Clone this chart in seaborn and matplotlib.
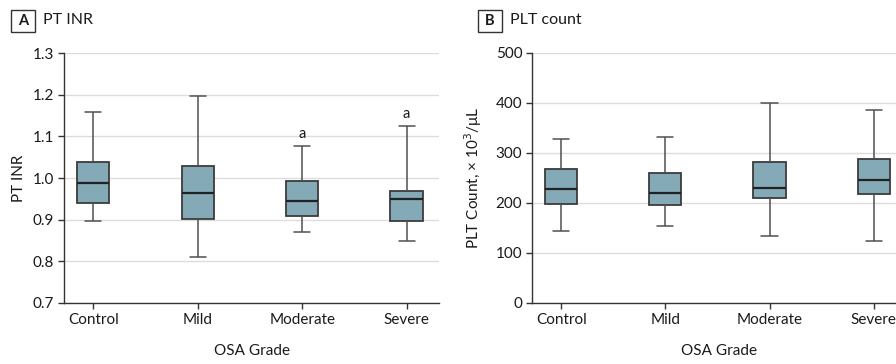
import numpy as np
import pandas as pd
import matplotlib
matplotlib.use('Agg')
import matplotlib.pyplot as plt
import matplotlib.patches as mpatches
import seaborn as sns

# 數據（從圖中讀取的五數摘要：最小、Q1、中位數、Q3、最大）
grades = ['Control', 'Mild', 'Moderate', 'Severe']

inr_low = [0.897, 0.810, 0.870, 0.850]
inr_q1 = [0.939, 0.902, 0.908, 0.898]
inr_med = [0.988, 0.963, 0.946, 0.950]
inr_q3 = [1.038, 1.029, 0.994, 0.969]
inr_high = [1.158, 1.197, 1.078, 1.126]
inr_marks = ['', '', 'a', 'a']

plt_low = [144, 154, 134, 125]
plt_q1 = [199, 197, 210, 218]
plt_med = [228, 221, 230, 246]
plt_q3 = [269, 260, 282, 288]
plt_high = [329, 333, 400, 387]

sns.set_theme(style='white')
plt.rcParams['font.family'] = ['Lato', 'DejaVu Sans']

BOX_COLOR = '#84a9b7'
EDGE = '#3c3c3c'
GRID = '#dcdcdc'
TEXT = '#1a1a1a'
W, H = 896, 364


def long_frame(low, q1, med, q3, high):
    # 每組 5 個點，四分位數剛好落在 Q1/中位數/Q3
    rows = []
    for g, a, b, c, d, e in zip(grades, low, q1, med, q3, high):
        for v in (a, b, c, d, e):
            rows.append({'grade': g, 'value': v})
    return pd.DataFrame(rows)


def draw_panel(ax, df, ylim, yticks, ylabel):
    sns.boxplot(data=df, x='grade', y='value', order=grades, ax=ax,
                whis=(0, 100), width=0.31, color=BOX_COLOR, saturation=1,
                linecolor=EDGE, linewidth=1.3,
                whiskerprops={'color': '#505050', 'linewidth': 1.1},
                capprops={'color': '#505050', 'linewidth': 1.1},
                medianprops={'color': '#222222', 'linewidth': 1.6},
                showfliers=False)
    ax.set_ylim(*ylim)
    ax.set_yticks(yticks)
    ax.set_xlim(-0.28, 3.31)
    ax.grid(axis='y', color=GRID, linewidth=1.0)
    ax.set_axisbelow(True)
    for s in ['top', 'right']:
        ax.spines[s].set_visible(False)
    for s in ['left', 'bottom']:
        ax.spines[s].set_color('#333333')
        ax.spines[s].set_linewidth(1.0)
    ax.tick_params(axis='both', which='major', length=4, width=1.0,
                   color='#333333', labelsize=11, labelcolor=TEXT,
                   bottom=True, left=True, pad=3)
    ax.set_xlabel('OSA Grade', fontsize=11, color=TEXT)
    ax.set_ylabel(ylabel, fontsize=11, color=TEXT)


fig = plt.figure(figsize=(8.96, 3.64), dpi=100)
axA = fig.add_axes([64 / W, 61 / H, 375 / W, 250 / H])
axB = fig.add_axes([532 / W, 61 / H, 374 / W, 250 / H])

dfA = long_frame(inr_low, inr_q1, inr_med, inr_q3, inr_high)
draw_panel(axA, dfA, (0.7, 1.3), np.arange(0.7, 1.31, 0.1), 'PT INR')
axA.set_yticklabels([f'{t:.1f}' for t in np.arange(0.7, 1.31, 0.1)])
for i, m in enumerate(inr_marks):
    if m:
        axA.annotate(m, (i, inr_high[i]), xytext=(0, 3), textcoords='offset points',
                     ha='center', va='bottom', fontsize=10.5, color=TEXT)

dfB = long_frame(plt_low, plt_q1, plt_med, plt_q3, plt_high)
draw_panel(axB, dfB, (0, 500), np.arange(0, 501, 100), 'PLT Count, × 10$^3$/μL')

axA.yaxis.set_label_coords(-0.101, 0.5)
axB.yaxis.set_label_coords(-0.128, 0.5)
axA.xaxis.set_label_coords(0.5, -0.165)
axB.xaxis.set_label_coords(0.5, -0.165)

# 面板標題（方框字母 + 標題）
for bx, letter, title in [(11, 'A', 'PT INR'), (478, 'B', 'PLT count')]:
    fig.patches.append(mpatches.Rectangle((bx / W, 1 - 32 / H), 24 / W, 22 / H,
                                          transform=fig.transFigure, fill=False,
                                          ec='#333333', lw=1.0))
    fig.text((bx + 12) / W, 1 - 21 / H, letter, ha='center', va='center',
             fontsize=10.5, fontweight='bold', color=TEXT)
    fig.text((bx + 32) / W, 1 - 20 / H, title, ha='left', va='center',
             fontsize=11.5, color=TEXT)

fig.savefig('out.png', dpi=100)
